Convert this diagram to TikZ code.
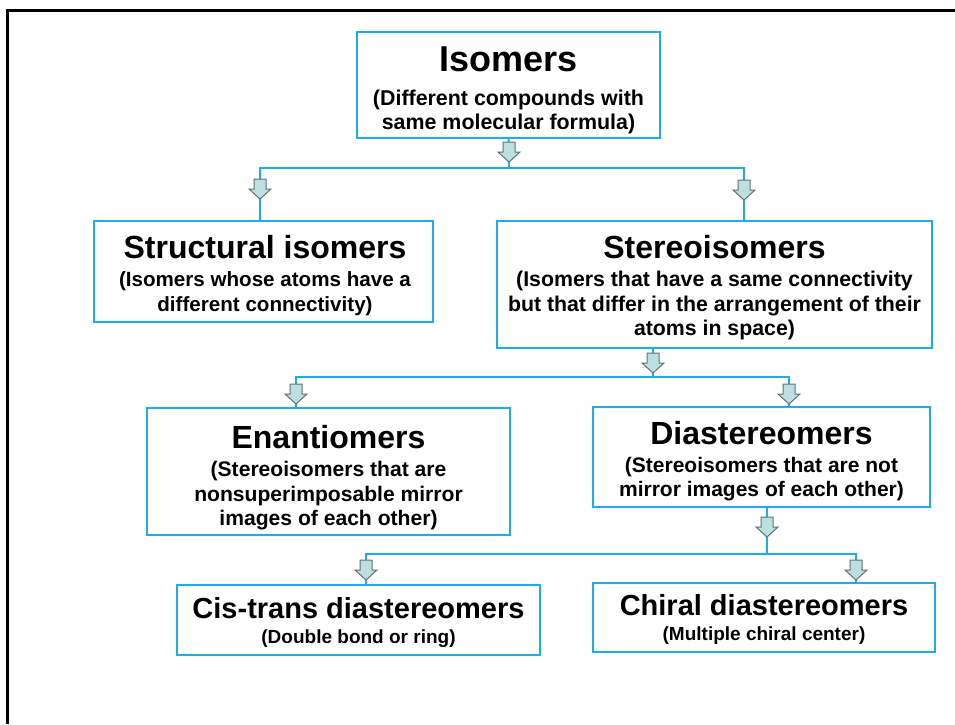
\documentclass[tikz,border=0pt]{standalone}
\usepackage{fontspec}
\setmainfont{Liberation Sans}
\usetikzlibrary{calc}
\definecolor{boxblue}{HTML}{1AAFE6}
\definecolor{arrowfill}{HTML}{BEDFE0}
\definecolor{arrowdraw}{HTML}{5E7373}
\tikzset{
  box/.style={draw=boxblue, line width=2.2pt, inner sep=0pt},
  txt/.style={align=center, inner sep=0pt, font=\fontsize{#1}{24.3}\selectfont\bfseries},
  txt/.default=20.5,
  smalltxt/.style={align=center, inner sep=0pt, font=\fontsize{19}{22}\selectfont\bfseries},
  link/.style={draw=boxblue, line width=2pt},
  blockarrow/.pic={\draw[draw=arrowdraw, fill=arrowfill, line width=1pt, line join=miter]
    (-6,0) -- (6,0) -- (6,10) -- (11,10) -- (0,20) -- (-11,10) -- (-6,10) -- cycle;}
}
\newcommand{\ttl}[2]{{\fontsize{#1}{#1}\selectfont #2}}
\begin{document}
\begin{tikzpicture}[x=1pt,y=-1pt]
\useasboundingbox (0,0) rectangle (955,724);
\fill[white] (0,0) rectangle (955,724);
% frame
\draw[black, line width=3pt] (7.5,724) -- (7.5,10.5) -- (955,10.5);

% boxes
\node[box, minimum width=303pt, minimum height=106pt] (iso) at (508.5,85) {};
\node[txt=21.4] (isoT) at ($(iso.center)+(0,5.5)$)
  {\ttl{36}{Isomers}\\[9pt](Different compounds with\\same molecular formula)};
\node[box, minimum width=339pt, minimum height=101pt] (struct) at (263.5,271.5) {};
\node[txt=20.6] (structT) at ($(struct.center)+(1.5,4)$)
  {\ttl{32}{Structural isomers}\\[4pt](Isomers whose atoms have a\\different connectivity)};
\node[box, minimum width=435pt, minimum height=127pt] (stereo) at (714.5,284.5) {};
\node[txt=21.3] (stereoT) at ($(stereo.center)+(0,3)$)
  {\ttl{32}{Stereoisomers}\\[4pt](Isomers that have a same connectivity\\but that differ in the arrangement of their\\atoms in space)};
\node[box, minimum width=363pt, minimum height=127pt] (enant) at (328.5,471.5) {};
\node[txt=21.1] (enantT) at ($(enant.center)+(0,6)$)
  {\ttl{32}{Enantiomers}\\[4pt](Stereoisomers that are\\nonsuperimposable mirror\\images of each other)};
\node[box, minimum width=337pt, minimum height=100pt] (diast) at (761.5,457) {};
\node[txt=21] (diastT) at ($(diast.center)+(0,4)$)
  {\ttl{32}{Diastereomers}\\[4pt](Stereoisomers that are not\\mirror images of each other)};
\node[box, minimum width=363pt, minimum height=70pt] (cis) at (358.5,620) {};
\node[smalltxt] (cisT) at ($(cis.center)+(0,2)$)
  {\ttl{29}{Cis-trans diastereomers}\\[3pt](Double bond or ring)};
\node[box, minimum width=342pt, minimum height=69pt] (chiral) at (764,617.5) {};
\node[smalltxt] (chiralT) at ($(chiral.center)+(0,2)$)
  {\ttl{29}{Chiral diastereomers}\\[3pt](Multiple chiral center)};

% junction coordinates
\coordinate (j1) at (509,168);
\coordinate (j1l) at (260,168);
\coordinate (j1r) at (744,168);
\coordinate (s1) at (653,348);
\coordinate (j2) at (653,377);
\coordinate (j2l) at (296,377);
\coordinate (j2r) at (789,377);
\coordinate (d1) at (767,507);
\coordinate (j3) at (767,554);
\coordinate (j3l) at (366,554);
\coordinate (j3r) at (856,554);

% connectors
\draw[link] (iso.south) -- (j1);
\draw[link] (j1l |- struct.north) -- (j1l) -- (j1r) -- (j1r |- stereo.north);
\draw[link] (s1) -- (j2);
\draw[link] (j2l |- enant.north) -- (j2l) -- (j2r) -- (j2r |- diast.north);
\draw[link] (d1) -- (j3);
\draw[link] (j3l |- cis.north) -- (j3l) -- (j3r) -- (j3r |- chiral.north);

% block arrows
\pic at (509,142) {blockarrow};
\pic at (260,179) {blockarrow};
\pic at (744,180) {blockarrow};
\pic at (653,353) {blockarrow};
\pic at (296,384) {blockarrow};
\pic at (789,384) {blockarrow};
\pic at (767,517) {blockarrow};
\pic at (366,560) {blockarrow};
\pic at (856,560) {blockarrow};
\end{tikzpicture}
\end{document}
